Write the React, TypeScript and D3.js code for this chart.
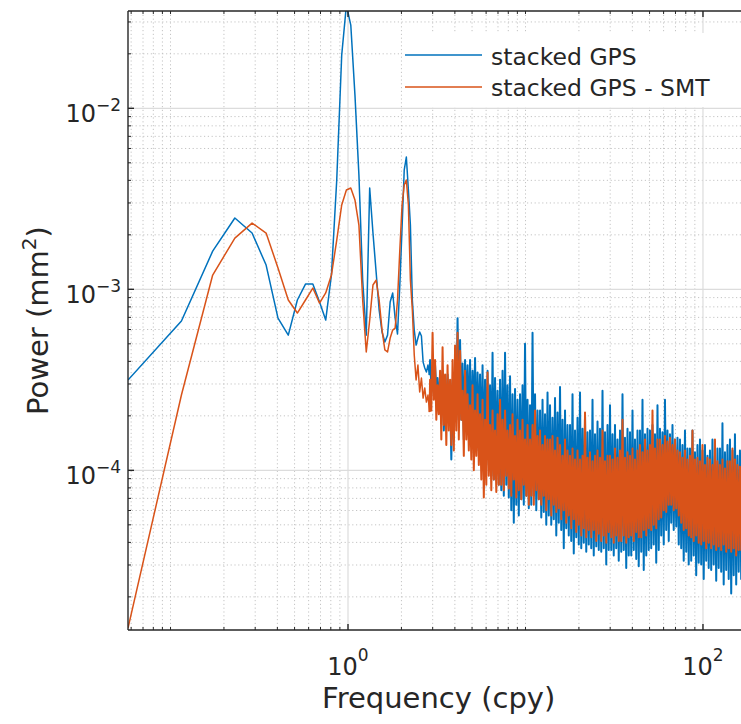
import * as d3 from "d3";
import * as React from "react";

// frequency resolution of the periodogram (cpy), ~17.4 yr of daily data
const DF = 1 / 17.36;
const F_MAX = 182.625; // Nyquist for daily sampling

// log10 power (mm^2) at f = k * DF, k = 1..50
const gpsLow = [
  -3.501, -3.175, -2.789, -2.606, -2.689, -2.866, -3.159, -3.253, -3.059, -2.971,
  -2.971, -3.07, -3.17, -2.921, -2.396, -1.706, -1.43, -1.54, -1.927, -2.369,
  -2.949, -3.253, -2.44, -2.689, -2.904, -3.114, -3.236, -3.291, -3.253, -3.07,
  -3.02, -3.159, -3.247, -2.976, -2.661, -2.341, -2.269, -2.451, -2.645, -3.059,
  -3.225, -3.308, -3.269, -3.236, -3.258, -3.402, -3.435, -3.457, -3.418, -3.474,
];
const smtLow = [
  -4.871, -3.584, -2.921, -2.717, -2.634, -2.689, -2.882, -3.059, -3.131, -3.059,
  -2.993, -3.076, -3.02, -2.921, -2.728, -2.534, -2.451, -2.44, -2.507, -2.645,
  -3.059, -3.346, -3.17, -2.976, -2.949, -3.059, -3.225, -3.335, -3.346, -3.269,
  -3.225, -3.214, -3.059, -2.783, -2.534, -2.424, -2.396, -2.534, -2.949, -3.114,
  -3.363, -3.501, -3.418, -3.567, -3.49, -3.601, -3.545, -3.623, -3.584, -3.678,
];

// high-frequency part, decimated onto a log grid starting at 2.9 cpy
const HF_START = 2.9;
const HF_STEP = 0.00704; // log10 step
const gpsHigh = [
  -3.39, -3.53, -3.46, -3.58, -3.42, -3.56, -3.49, -3.57,
  -3.53, -3.61, -3.45, -3.78, -3.56, -3.67, -3.47, -3.72,
  -3.58, -3.94, -3.5, -3.83, -3.45, -3.72, -3.16, -3.67,
  -3.28, -3.72, -3.41, -3.83, -3.39, -3.67, -3.42, -3.78,
  -3.39, -3.86, -3.45, -3.72, -3.38, -3.89, -3.46, -3.81,
  -3.47, -3.94, -3.42, -4.0, -3.5, -3.89, -3.45, -3.97,
  -3.53, -4.03, -3.35, -4.05, -3.49, -4.0, -3.56, -4.08,
  -3.5, -4.11, -3.45, -4.14, -3.35, -4.08, -3.53, -4.15,
  -3.48, -4.22, -3.58, -4.29, -3.55, -4.19, -3.61, -4.25,
  -3.58, -4.16, -3.53, -4.19, -3.3, -4.14, -3.61, -4.21,
  -3.64, -4.19, -3.24, -4.14, -3.58, -4.22, -3.67, -4.16,
  -3.67, -4.26, -3.61, -4.23, -3.69, -4.3, -3.57, -4.25,
  -3.64, -4.3, -3.71, -4.27, -3.6, -4.36, -3.68, -4.29,
  -3.54, -4.33, -3.72, -4.43, -3.67, -4.32, -3.75, -4.36,
  -3.75, -4.39, -3.58, -4.46, -3.78, -4.37, -3.71, -4.41,
  -3.57, -4.43, -3.77, -4.4, -3.69, -4.45, -3.79, -4.41,
  -3.78, -4.43, -3.61, -4.47, -3.8, -4.42, -3.73, -4.44,
  -3.77, -4.45, -3.56, -4.43, -3.79, -4.52, -3.75, -4.44,
  -3.64, -4.44, -3.8, -4.47, -3.75, -4.43, -3.83, -4.5,
  -3.78, -4.45, -3.58, -4.44, -3.82, -4.54, -3.77, -4.47,
  -3.79, -4.47, -3.67, -4.44, -3.83, -4.49, -3.78, -4.53,
  -3.78, -4.45, -3.61, -4.55, -3.8, -4.47, -3.77, -4.44,
  -3.78, -4.43, -3.75, -4.41, -3.8, -4.51, -3.64, -4.44,
  -3.77, -4.36, -3.79, -4.41, -3.61, -4.33, -3.78, -4.39,
  -3.8, -4.29, -3.75, -4.33, -3.83, -4.31, -3.82, -4.41,
  -3.83, -4.43, -3.86, -4.5, -3.78, -4.45, -3.88, -4.52,
  -3.88, -4.5, -3.78, -4.47, -3.9, -4.58, -3.86, -4.51,
  -3.83, -4.52, -3.89, -4.6, -3.86, -4.5, -3.92, -4.54,
  -3.89, -4.55, -3.83, -4.52, -3.92, -4.61, -3.88, -4.54,
  -3.88, -4.56, -3.74, -4.63, -3.9, -4.55, -3.86, -4.6,
  -3.83, -4.68, -3.89, -4.58, -3.8, -4.63, -3.92, -4.56,
  -3.89, -4.6, -3.84, -4.55, -3.92, -4.65, -3.88, -4.58,
];
const smtHigh = [
  -3.5, -3.67, -3.24, -3.61, -3.39, -3.72, -3.53, -3.69,
  -3.45, -3.83, -3.32, -3.75, -3.47, -3.86, -3.42, -3.78,
  -3.5, -3.86, -3.39, -3.89, -3.31, -3.78, -3.24, -3.83,
  -3.34, -3.72, -3.56, -3.92, -3.45, -3.83, -3.58, -3.89,
  -3.64, -3.94, -3.53, -4.0, -3.67, -3.92, -3.58, -3.97,
  -3.69, -4.05, -3.61, -4.15, -3.72, -4.08, -3.46, -4.03,
  -3.75, -4.11, -3.67, -4.05, -3.78, -4.12, -3.69, -4.08,
  -3.61, -4.08, -3.72, -4.11, -3.67, -4.03, -3.78, -4.1,
  -3.75, -4.14, -3.69, -4.05, -3.81, -4.15, -3.72, -4.11,
  -3.78, -4.16, -3.72, -4.08, -3.83, -4.14, -3.75, -4.19,
  -3.83, -4.14, -3.75, -4.19, -3.67, -4.11, -3.81, -4.16,
  -3.78, -4.19, -3.86, -4.14, -3.81, -4.22, -3.83, -4.16,
  -3.83, -4.25, -3.81, -4.19, -3.89, -4.23, -3.82, -4.21,
  -3.86, -4.27, -3.92, -4.22, -3.83, -4.29, -3.89, -4.25,
  -3.92, -4.32, -3.88, -4.27, -3.94, -4.34, -3.89, -4.3,
  -3.94, -4.36, -3.92, -4.32, -3.68, -4.37, -3.93, -4.33,
  -3.9, -4.37, -3.95, -4.33, -3.92, -4.39, -3.89, -4.35,
  -3.93, -4.39, -3.78, -4.36, -3.95, -4.4, -3.92, -4.34,
  -3.92, -4.37, -3.94, -4.4, -3.88, -4.36, -3.93, -4.39,
  -3.89, -4.39, -3.72, -4.36, -3.93, -4.4, -3.9, -4.37,
  -3.92, -4.36, -3.88, -4.39, -3.94, -4.34, -3.89, -4.37,
  -3.86, -4.37, -3.9, -4.33, -3.83, -4.36, -3.89, -4.32,
  -3.86, -4.33, -3.67, -4.3, -3.88, -4.32, -3.83, -4.27,
  -3.83, -4.26, -3.86, -4.22, -3.81, -4.23, -3.84, -4.19,
  -3.82, -4.19, -3.86, -4.22, -3.83, -4.21, -3.89, -4.25,
  -3.9, -4.29, -3.93, -4.33, -3.89, -4.32, -3.94, -4.36,
  -3.92, -4.37, -3.78, -4.39, -3.94, -4.36, -3.93, -4.4,
  -3.95, -4.41, -3.86, -4.39, -3.97, -4.43, -3.93, -4.4,
  -3.94, -4.43, -3.97, -4.41, -3.83, -4.44, -3.95, -4.42,
  -3.97, -4.44, -3.94, -4.41, -3.99, -4.45, -3.95, -4.43,
  -3.95, -4.45, -3.88, -4.43, -3.94, -4.47, -3.97, -4.44,
  -3.98, -4.44, -3.95, -4.45, -3.99, -4.43, -3.97, -4.45,
];

const xTicks = [1, 100];
const yTicks = [1e-4, 1e-3, 1e-2];
const legendLabels = ["stacked GPS", "stacked GPS - SMT"];
const colors = ["#0072BD", "#D95319"];

const font = "DejaVu Sans";
const ink = "#262626";

function minorTicks(lo, hi, majors) {
  const out = [];
  for (let n = -6; n <= 3; n++) {
    for (let m = 1; m <= 9; m++) {
      const v = m * Math.pow(10, n);
      if (v < lo || v > hi) continue;
      if (majors.some((t) => Math.abs(t - v) / t < 1e-9)) continue;
      out.push(v);
    }
  }
  return out;
}

export default function App() {
  const width = 741;
  const height = 724;
  const m = { left: 128, top: 11, right: 749.4, bottom: 630 };

  const x = d3.scaleLog().domain([DF, F_MAX]).range([m.left, m.right]);
  const y = d3
    .scaleLog()
    .domain([Math.pow(10, -4.882), Math.pow(10, -1.4624)])
    .range([m.bottom, m.top]);

  const lowF = gpsLow.map((_, i) => (i + 1) * DF);
  const highF = gpsHigh.map((_, i) => HF_START * Math.pow(10, i * HF_STEP));

  // low part drawn thin, dense part a little heavier so the band closes up
  const toPts = (f, v) => f.map((fi, i) => [fi, v[i]]);
  const series = [
    { low: toPts(lowF, gpsLow), high: toPts(highF, gpsHigh) },
    { low: toPts(lowF, smtLow), high: toPts(highF, smtHigh) },
  ];
  series.forEach((s) => s.high.unshift(s.low[s.low.length - 1]));

  const line = d3
    .line<number[]>()
    .x((d) => x(d[0]))
    .y((d) => y(Math.pow(10, d[1])));

  const [x0, x1] = x.domain();
  const [y0, y1] = y.domain();
  const xMinor = minorTicks(x0, x1, xTicks);
  const yMinor = minorTicks(y0, y1, yTicks);

  return (
    <svg
      width={width}
      height={height}
      style={{ position: "absolute", left: 0, top: 0, background: "#fff" }}
      fontFamily={font}
    >
      <defs>
        <clipPath id="plot">
          <rect x={m.left} y={m.top} width={m.right - m.left} height={m.bottom - m.top} />
        </clipPath>
      </defs>

      {/* minor grid */}
      <g stroke="#c4c4c4" strokeWidth={1} strokeDasharray="1.2 2.6">
        {xMinor.map((v) => (
          <line key={"xm" + v} x1={x(v)} x2={x(v)} y1={m.top} y2={m.bottom} />
        ))}
        {yMinor.map((v) => (
          <line key={"ym" + v} x1={m.left} x2={m.right} y1={y(v)} y2={y(v)} />
        ))}
      </g>
      {/* major grid */}
      <g stroke="#dcdcdc" strokeWidth={1.2}>
        {xTicks.map((v) => (
          <line key={"xg" + v} x1={x(v)} x2={x(v)} y1={m.top} y2={m.bottom} />
        ))}
        {yTicks.map((v) => (
          <line key={"yg" + v} x1={m.left} x2={m.right} y1={y(v)} y2={y(v)} />
        ))}
      </g>

      {/* spectra */}
      <g clipPath="url(#plot)" fill="none" strokeLinejoin="round">
        {series.map((s, i) => (
          <g key={i} stroke={colors[i]}>
            <path d={line(s.low) || ""} strokeWidth={1.5} />
            <path d={line(s.high) || ""} strokeWidth={2} />
          </g>
        ))}
      </g>

      {/* axes box and ticks */}
      <g stroke={ink} strokeWidth={1.4}>
        <line x1={m.left} x2={m.right} y1={m.bottom} y2={m.bottom} />
        <line x1={m.left} x2={m.right} y1={m.top} y2={m.top} />
        <line x1={m.left} x2={m.left} y1={m.top} y2={m.bottom} />
        {xTicks.map((v) => (
          <g key={"xt" + v}>
            <line x1={x(v)} x2={x(v)} y1={m.bottom} y2={m.bottom - 6} />
            <line x1={x(v)} x2={x(v)} y1={m.top} y2={m.top + 6} />
          </g>
        ))}
        {yTicks.map((v) => (
          <line key={"yt" + v} x1={m.left} x2={m.left + 6} y1={y(v)} y2={y(v)} />
        ))}
      </g>
      <g stroke={ink} strokeWidth={1}>
        {xMinor.map((v) => (
          <g key={"xmt" + v}>
            <line x1={x(v)} x2={x(v)} y1={m.bottom} y2={m.bottom - 3} />
            <line x1={x(v)} x2={x(v)} y1={m.top} y2={m.top + 3} />
          </g>
        ))}
        {yMinor.map((v) => (
          <line key={"ymt" + v} x1={m.left} x2={m.left + 3} y1={y(v)} y2={y(v)} />
        ))}
      </g>

      {/* tick labels */}
      <g fill={ink} fontSize={24}>
        {xTicks.map((v) => (
          <text key={"xl" + v} x={x(v)} y={675} textAnchor="middle">
            10
            <tspan dy={-14} fontSize={17}>
              {Math.round(Math.log10(v))}
            </tspan>
          </text>
        ))}
        {yTicks.map((v) => (
          <text key={"yl" + v} x={121} y={y(v) + 14} textAnchor="end">
            10
            <tspan dy={-11} fontSize={17}>
              {"\u2212" + Math.round(-Math.log10(v))}
            </tspan>
          </text>
        ))}
      </g>

      {/* axis labels */}
      <text x={(m.left + m.right) / 2} y={708} textAnchor="middle" fontSize={29} fill={ink}>
        Frequency (cpy)
      </text>
      <text
        transform={`translate(48,${(m.top + m.bottom) / 2}) rotate(-90)`}
        textAnchor="middle"
        fontSize={29}
        fill={ink}
      >
        Power (mm
        <tspan dy={-12} fontSize={20}>
          2
        </tspan>
        <tspan dy={12}>)</tspan>
      </text>

      {/* legend */}
      <g>
        <rect x={402} y={33} width={360} height={74} fill="#fff" />
        {legendLabels.map((label, i) => (
          <g key={label}>
            <line
              x1={405}
              x2={482}
              y1={55 + i * 32}
              y2={55 + i * 32}
              stroke={colors[i]}
              strokeWidth={1.5}
            />
            <text x={491} y={65 + i * 31} fontSize={23.5} fill={ink}>
              {label}
            </text>
          </g>
        ))}
      </g>
    </svg>
  );
}
